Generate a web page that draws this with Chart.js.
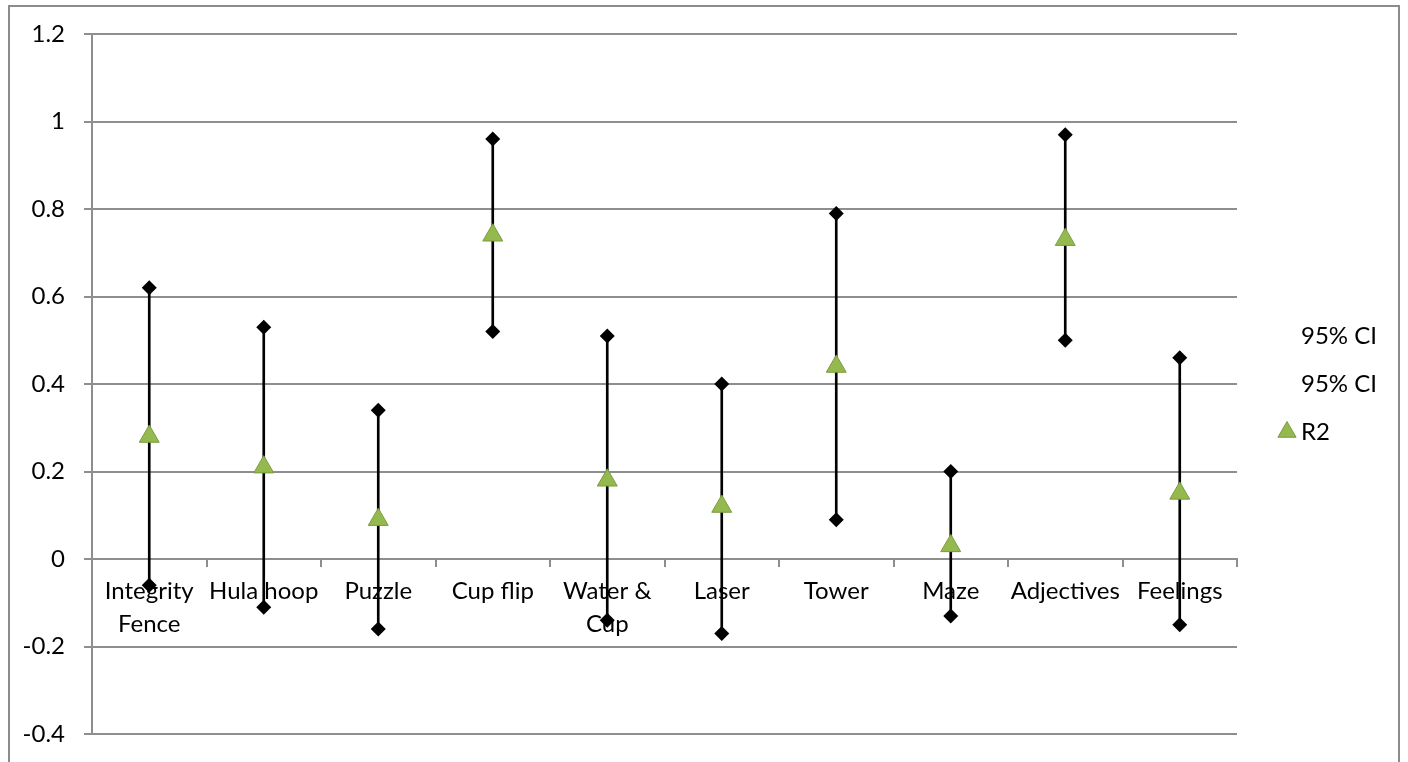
<!DOCTYPE html>
<html>
<head>
<meta charset="utf-8">
<script src="https://cdn.jsdelivr.net/npm/chart.js@4.4.1/dist/chart.umd.min.js"></script>
<style>
  html, body { margin: 0; padding: 0; background: #fff; overflow: hidden; }
  #frame {
    position: absolute; left: 8px; top: 5px;
    width: 1388px; height: 770px;
    border: 2px solid #8c8c8c;
  }
  #wrap { position: absolute; left: 0; top: 0; width: 1388px; height: 755px; }
</style>
</head>
<body>
<div id="frame">
  <div id="wrap"><canvas id="ciChart"></canvas></div>
</div>
<script>
// categories (x axis)
const tasks = [
  ['Integrity', 'Fence'], 'Hula hoop', 'Puzzle', 'Cup flip', ['Water &', 'Cup'],
  'Laser', 'Tower', 'Maze', 'Adjectives', 'Feelings'
];

// upper / lower 95% CI and R2 values
const ciHigh = [0.62, 0.53, 0.34, 0.96, 0.51, 0.40, 0.79, 0.20, 0.97, 0.46];
const ciLow = [-0.06, -0.11, -0.16, 0.52, -0.14, -0.17, 0.09, -0.13, 0.50, -0.15];
const r2 = [0.28, 0.21, 0.09, 0.74, 0.18, 0.12, 0.44, 0.03, 0.73, 0.15];

// y axis ticks
const yMin = -0.4;
const yMax = 1.2;
const yStep = 0.2;

const fontFamily = 'Lato, "Open Sans", sans-serif';
const fontSize = 24;
const gridGray = '#8e8e8e';

// high-low line as thin floating bars built from the CI arrays
const ranges = ciLow.map((lo, i) => [lo, ciHigh[i]]);

// legend on the right, drawn beside the plot area (CI entries have no marker)
const sideLegend = {
  id: 'sideLegend',
  afterDraw(chart) {
    const { ctx, chartArea } = chart;
    const items = chart.data.datasets.filter(ds => ds.label !== 'range');
    const mid = (chartArea.top + chartArea.bottom) / 2;
    const step = 48;
    const textX = chartArea.right + 64;
    const markX = chartArea.right + 50;
    ctx.save();
    ctx.font = fontSize + 'px ' + fontFamily;
    ctx.textAlign = 'left';
    ctx.textBaseline = 'middle';
    items.forEach((ds, i) => {
      const y = mid + (i - (items.length - 1) / 2) * step;
      if (ds.pointStyle === 'triangle') {
        ctx.fillStyle = ds.pointBackgroundColor;
        ctx.strokeStyle = ds.pointBorderColor;
        ctx.lineWidth = 1;
        Chart.helpers.drawPoint(ctx, { pointStyle: 'triangle', radius: 10.5, borderWidth: 1 }, markX, y);
      }
      ctx.fillStyle = '#000';
      ctx.fillText(ds.label, textX, y);
    });
    ctx.restore();
  }
};

const ctx = document.getElementById('ciChart').getContext('2d');
const ciChart = new Chart(ctx, {
  type: 'bar',
  data: {
    labels: tasks,
    datasets: [
      {
        label: 'range',
        data: ranges,
        backgroundColor: '#000',
        borderWidth: 0,
        barThickness: 2,
        order: 3
      },
      {
        type: 'line',
        label: '95% CI',
        data: ciHigh,
        showLine: false,
        pointStyle: 'rectRot',
        pointRadius: 7.5,
        pointBackgroundColor: '#000',
        pointBorderColor: '#000',
        pointBorderWidth: 0,
        order: 2
      },
      {
        type: 'line',
        label: '95% CI',
        data: ciLow,
        showLine: false,
        pointStyle: 'rectRot',
        pointRadius: 7.5,
        pointBackgroundColor: '#000',
        pointBorderColor: '#000',
        pointBorderWidth: 0,
        order: 2
      },
      {
        type: 'line',
        label: 'R2',
        data: r2,
        showLine: false,
        pointStyle: 'triangle',
        pointRadius: 11.5,
        pointBackgroundColor: '#94ba4f',
        pointBorderColor: '#7a9a3c',
        pointBorderWidth: 1,
        order: 1
      }
    ]
  },
  options: {
    responsive: true,
    maintainAspectRatio: false,
    animation: false,
    layout: { padding: { left: 0, right: 161, top: 0, bottom: 0 } },
    plugins: {
      tooltip: { enabled: false },
      legend: { display: false }
    },
    scales: {
      x: {
        position: { y: 0 },
        offset: true,
        grid: {
          offset: true,
          drawOnChartArea: false,
          drawTicks: true,
          tickLength: 7,
          color: gridGray,
          lineWidth: 2
        },
        border: { display: true, color: gridGray, width: 2 },
        ticks: {
          color: '#000',
          padding: 9,
          maxRotation: 0,
          autoSkip: false,
          font: { family: fontFamily, size: fontSize, lineHeight: 1.38 }
        }
      },
      y: {
        min: yMin,
        max: yMax,
        afterFit: scale => {
          scale.width = 82;
          scale.paddingTop = 27;
          scale.paddingBottom = 28;
        },
        grid: {
          color: gridGray,
          lineWidth: 2,
          tickLength: 8
        },
        border: { display: true, color: gridGray, width: 2 },
        ticks: {
          stepSize: yStep,
          color: '#000',
          padding: 19,
          font: { family: fontFamily, size: fontSize },
          callback: v => String(Math.round(v * 10) / 10)
        }
      }
    }
  },
  plugins: [sideLegend]
});
</script>
</body>
</html>
